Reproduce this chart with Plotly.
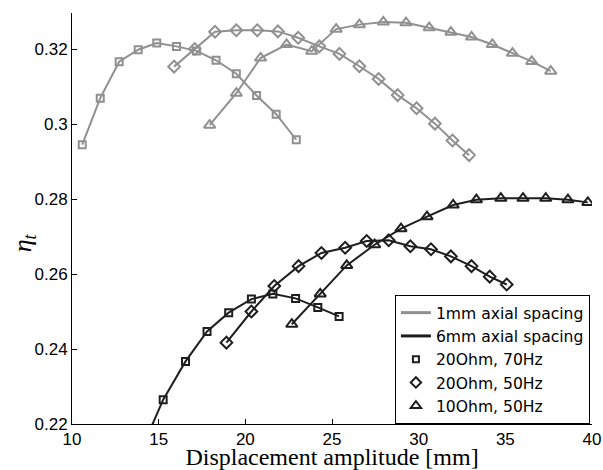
import plotly.graph_objects as go

# 1 mm axial spacing (gray)
g_sq_x = [10.59, 11.63, 12.72, 13.82, 14.89, 16.03, 17.18, 18.31, 19.48, 20.65, 21.78, 22.94]
g_sq_y = [0.2945, 0.3069, 0.3166, 0.3198, 0.3216, 0.3207, 0.3195, 0.3170, 0.3134, 0.3076, 0.3026, 0.2958]

g_di_x = [15.89, 17.08, 18.25, 19.48, 20.69, 21.88, 23.05, 24.27, 25.43, 26.58, 27.69, 28.79, 29.88, 30.94, 31.95, 32.91]
g_di_y = [0.3153, 0.3200, 0.3246, 0.3250, 0.3250, 0.3247, 0.3230, 0.3207, 0.3187, 0.3154, 0.3120, 0.3077, 0.3042, 0.3001, 0.2956, 0.2917]

g_tr_x = [17.94, 19.48, 20.88, 22.38, 23.83, 25.24, 26.58, 27.96, 29.27, 30.61, 31.86, 33.05, 34.25, 35.41, 36.52, 37.62]
g_tr_y = [0.2997, 0.3082, 0.3176, 0.3212, 0.3194, 0.3253, 0.3265, 0.3272, 0.3270, 0.3257, 0.3245, 0.3232, 0.3212, 0.3189, 0.3167, 0.3141]

# 6 mm axial spacing (black)
k_sq_x = [13.99, 15.26, 16.55, 17.79, 19.04, 20.35, 21.59, 22.90, 24.18, 25.41]
k_sq_y = [0.2130, 0.2265, 0.2367, 0.2447, 0.2497, 0.2533, 0.2547, 0.2535, 0.2511, 0.2487]

k_di_x = [18.91, 20.35, 21.67, 23.07, 24.39, 25.76, 27.00, 28.27, 29.52, 30.71, 31.86, 33.05, 34.10, 35.08]
k_di_y = [0.2417, 0.2500, 0.2568, 0.2621, 0.2656, 0.2670, 0.2688, 0.2690, 0.2674, 0.2666, 0.2647, 0.2621, 0.2593, 0.2572]

k_tr_x = [22.68, 24.32, 25.85, 27.46, 28.98, 30.48, 31.99, 33.33, 34.74, 36.02, 37.33, 38.61, 39.76]
k_tr_y = [0.2466, 0.2547, 0.2623, 0.2678, 0.2721, 0.2753, 0.2784, 0.2798, 0.2802, 0.2802, 0.2802, 0.2798, 0.2791]

x_ticks = [10, 15, 20, 25, 30, 35, 40]
y_ticks = [0.22, 0.24, 0.26, 0.28, 0.30, 0.32]
y_tick_text = ["0.22", "0.24", "0.26", "0.28", "0.3", "0.32"]

legend_names = ["1mm axial spacing", "6mm axial spacing", "20Ohm, 70Hz", "20Ohm, 50Hz", "10Ohm, 50Hz"]

GRAY = "#909090"
BLACK = "#1e1e1e"
SERIF = "Liberation Serif, Times New Roman, serif"

series = [
    (g_sq_x, g_sq_y, GRAY, "square-open", 7),
    (g_di_x, g_di_y, GRAY, "diamond-open", 9),
    (g_tr_x, g_tr_y, GRAY, "triangle-up-open", 10),
    (k_sq_x, k_sq_y, BLACK, "square-open", 7),
    (k_di_x, k_di_y, BLACK, "diamond-open", 9),
    (k_tr_x, k_tr_y, BLACK, "triangle-up-open", 10),
]

fig = go.Figure()
for xs, ys, col, sym, sz in series:
    fig.add_trace(go.Scatter(
        x=xs, y=ys, mode="lines+markers", showlegend=False,
        line=dict(color=col, width=2),
        marker=dict(symbol=sym, size=sz, color=col, line=dict(color=col, width=2)),
    ))

# legend entries
fig.add_trace(go.Scatter(x=[None], y=[None], mode="lines", name=legend_names[0],
                         line=dict(color=GRAY, width=3)))
fig.add_trace(go.Scatter(x=[None], y=[None], mode="lines", name=legend_names[1],
                         line=dict(color=BLACK, width=3)))
for name, sym, sz in [(legend_names[2], "square-open", 6),
                      (legend_names[3], "diamond-open", 8),
                      (legend_names[4], "triangle-up-open", 9)]:
    fig.add_trace(go.Scatter(x=[None], y=[None], mode="markers", name=name,
                             marker=dict(symbol=sym, size=sz, color=BLACK,
                                         line=dict(color=BLACK, width=2))))

fig.update_layout(
    width=603, height=470,
    margin=dict(l=72, r=11, t=13, b=46),
    paper_bgcolor="white", plot_bgcolor="white",
    font=dict(family="Liberation Sans, Arial, sans-serif", size=17, color="black"),
    legend=dict(x=0.996, xanchor="right", y=0.0, yanchor="bottom",
                bordercolor="black", borderwidth=1, bgcolor="white",
                font=dict(family="DejaVu Sans, sans-serif", size=15.6),
                tracegroupgap=0, itemwidth=30),
    xaxis=dict(range=[10, 40], tickvals=x_ticks, ticks="inside", ticklen=5,
               tickcolor="black", showline=True, linecolor="black", linewidth=1,
               showgrid=False, zeroline=False, mirror=False, automargin=False,
               title=dict(text="Displacement amplitude [mm]",
                          font=dict(family=SERIF, size=24))),
    yaxis=dict(range=[0.22, 0.3296], tickvals=y_ticks, ticktext=y_tick_text,
               ticks="inside", ticklen=5, tickcolor="black",
               showline=True, linecolor="black", linewidth=1,
               showgrid=False, zeroline=False, mirror=False, automargin=False),
    annotations=[dict(text="<i>η</i><sub><i>t</i></sub>", xref="paper", yref="paper",
                      x=-0.092, y=0.44, xanchor="center", yanchor="middle",
                      textangle=-90, showarrow=False,
                      font=dict(family=SERIF, size=26, color="black"))],
)

fig.write_html("out.html",
               config={"displayModeBar": False},
               post_script="document.body.style.margin='0px';document.body.style.overflow='hidden';")
